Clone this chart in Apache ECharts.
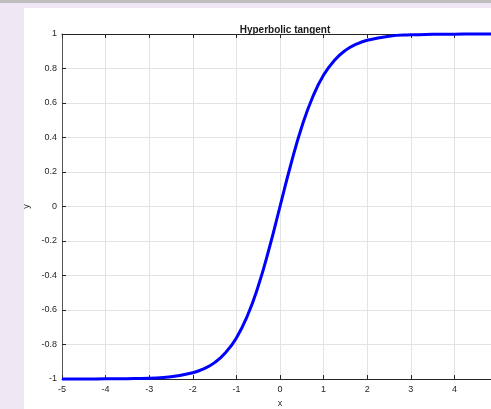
<!DOCTYPE html>
<html>
<head>
<meta charset="utf-8">
<script src="https://cdn.jsdelivr.net/npm/echarts@6/dist/echarts.min.js"></script>
<style>
  html, body { margin: 0; padding: 0; background: #f0e7f5; }
  #main { width: 491px; height: 409px; }
</style>
</head>
<body>
<div id="main"></div>
<script>
// x positions sampled along the curve
var xValues = [-5, -4.5, -4, -3.5, -3, -2.5, -2, -1.75, -1.5, -1.25, -1, -0.75, -0.5, -0.25,
    0, 0.25, 0.5, 0.75, 1, 1.25, 1.5, 1.75, 2, 2.5, 3, 3.5, 4, 4.5, 5];
// y values
var yValues = [-1.0, -1.0, -0.999, -0.998, -0.995, -0.987, -0.964, -0.941, -0.905, -0.848, -0.762, -0.635, -0.462, -0.245,
    0, 0.245, 0.462, 0.635, 0.762, 0.848, 0.905, 0.941, 0.964, 0.987, 0.995, 0.998, 0.999, 1.0, 1.0];

var chartTitle = 'Hyperbolic tangent';
var xName = 'x';
var yName = 'y';

var chartDom = document.getElementById('main');
var myChart = echarts.init(chartDom);

var labelFont = { color: '#262626', fontSize: 9, fontFamily: 'Liberation Sans' };

var option = {
    animation: false,
    graphic: [
        { type: 'rect', z: -10, shape: { x: 0, y: 0, width: 491, height: 3 }, style: { fill: '#bfbfbf' } },
        { type: 'rect', z: -10, shape: { x: 24, y: 8, width: 467, height: 401 }, style: { fill: '#ffffff' } }
    ],
    title: {
        text: chartTitle,
        left: 280,
        top: 20,
        textAlign: 'center',
        textStyle: { fontSize: 10, fontWeight: 'bold', color: '#1a1a1a', fontFamily: 'Liberation Sans' }
    },
    grid: {
        left: 62,
        width: 436,
        top: 34,
        height: 345,
        containLabel: false,
        outerBoundsMode: 'none'
    },
    xAxis: [{
        type: 'value',
        min: -5,
        max: 5,
        interval: 1,
        name: xName,
        nameLocation: 'middle',
        nameGap: 20,
        nameTextStyle: labelFont,
        axisLine: { show: true, onZero: false, lineStyle: { color: '#262626', width: 1 } },
        axisTick: { show: true, inside: true, length: 4, lineStyle: { color: '#262626' } },
        axisLabel: Object.assign({ margin: 6 }, labelFont),
        splitLine: { show: true, lineStyle: { color: '#e3e3e3', width: 1 } }
    }, {
        type: 'value',
        position: 'top',
        min: -5,
        max: 5,
        interval: 1,
        axisLine: { show: true, onZero: false, lineStyle: { color: '#262626', width: 1 } },
        axisTick: { show: true, inside: true, length: 4, lineStyle: { color: '#262626' } },
        axisLabel: { show: false },
        splitLine: { show: false }
    }],
    yAxis: {
        type: 'value',
        min: -1,
        max: 1,
        interval: 0.2,
        name: yName,
        nameLocation: 'middle',
        nameGap: 25,
        nameRotate: 90,
        nameTextStyle: labelFont,
        axisLine: { show: true, onZero: false, lineStyle: { color: '#555555', width: 1 } },
        axisTick: { show: true, inside: true, length: 4, lineStyle: { color: '#262626' } },
        axisLabel: Object.assign({ margin: 5 }, labelFont),
        splitLine: { show: true, lineStyle: { color: '#e3e3e3', width: 1 } }
    },
    series: [{
        type: 'line',
        data: xValues.map(function (x, i) { return [x, yValues[i]]; }),
        smooth: true,
        showSymbol: false,
        lineStyle: { color: '#0000ff', width: 3 },
        clip: false
    }]
};

myChart.setOption(option);
</script>
</body>
</html>
